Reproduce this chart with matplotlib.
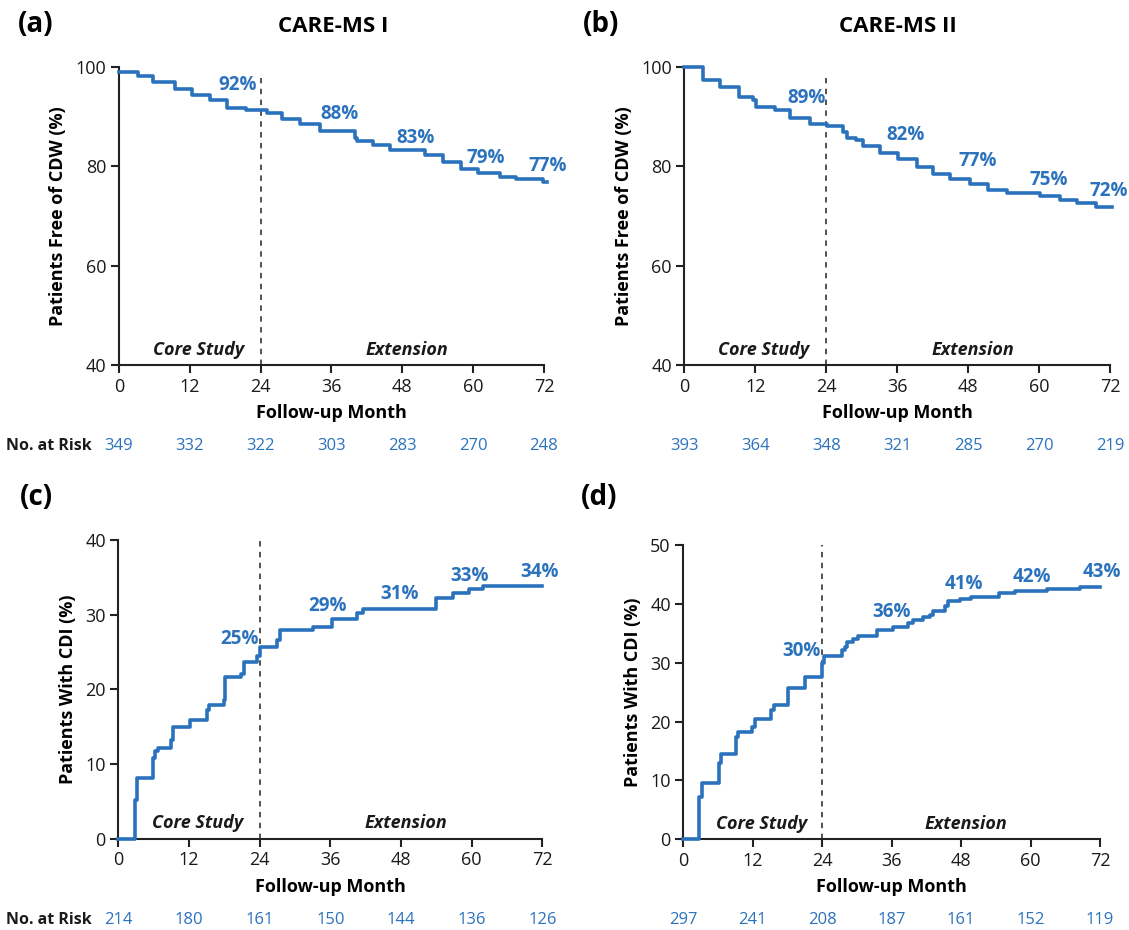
import matplotlib.pyplot as plt

plt.rcParams['font.family'] = ['Open Sans', 'DejaVu Sans']

BLUE = '#2b72bd'

months = [0, 12, 24, 36, 48, 60, 72]

# (a) CARE-MS I, patients free of CDW (%)
a_t = [0, 3.3, 5.8, 9.5, 12.3, 15.4, 18.3, 21.6, 25.0, 27.7, 30.6, 34.0, 40.0, 40.4,
       43.1, 45.9, 51.8, 54.9, 58.0, 60.8, 64.5, 67.3, 71.8, 72.5]
a_s = [99.0, 98.1, 97.0, 95.6, 94.4, 93.3, 91.8, 91.4, 90.7, 89.6, 88.6, 87.2, 85.8, 85.2,
       84.4, 83.2, 82.2, 80.9, 79.4, 78.7, 77.9, 77.4, 76.8, 76.8]
a_lab = ['92%', '88%', '83%', '79%', '77%']
a_lab_x = [20.1, 37.4, 50.3, 62.1, 72.6]
a_lab_y = [96.3, 90.6, 85.8, 81.7, 80.1]
a_risk = [349, 332, 322, 303, 283, 270, 248]

# (b) CARE-MS II, patients free of CDW (%)
b_t = [0, 3.1, 6.0, 9.3, 11.7, 12.2, 15.3, 17.8, 21.2, 24.1, 26.9, 27.5, 29.0, 30.3,
       33.1, 36.2, 39.3, 42.1, 44.9, 48.3, 51.4, 54.5, 60.1, 63.5, 66.4, 69.7, 72.4]
b_s = [100, 97.4, 96.0, 94.0, 93.3, 92.0, 91.3, 89.7, 88.6, 88.1, 86.9, 85.8, 85.4, 84.2,
       82.6, 81.5, 79.9, 78.4, 77.5, 76.5, 75.2, 74.7, 74.1, 73.3, 72.6, 71.8, 71.8]
b_lab = ['89%', '82%', '77%', '75%', '72%']
b_lab_x = [20.6, 37.5, 49.6, 61.6, 71.7]
b_lab_y = [93.7, 86.3, 81.1, 77.3, 75.1]
b_risk = [393, 364, 348, 321, 285, 270, 219]

# (c) CARE-MS I, patients with CDI (%)
c_t = [0, 2.8, 3.1, 5.9, 6.3, 6.7, 8.9, 9.3, 12.1, 15.0, 15.4, 17.9, 18.1, 20.9, 21.3,
       23.6, 24.1, 26.9, 27.4, 33.1, 36.3, 40.6, 41.6, 54.0, 56.8, 59.6, 61.9, 71.9]
c_s = [0, 5.2, 8.1, 10.8, 11.7, 12.2, 13.2, 15.0, 15.9, 17.2, 17.9, 18.6, 21.6, 22.1, 23.7,
       24.4, 25.7, 26.6, 28.0, 28.4, 29.4, 30.2, 30.7, 32.2, 32.9, 33.4, 33.8, 33.8]
c_lab = ['25%', '29%', '31%', '33%', '34%']
c_lab_x = [20.5, 35.6, 47.7, 59.7, 71.6]
c_lab_y = [26.8, 31.1, 32.7, 35.2, 35.7]
c_risk = [214, 180, 161, 150, 144, 136, 126]

# (d) CARE-MS II, patients with CDI (%)
d_t = [0, 2.7, 3.3, 6.1, 6.6, 9.1, 9.5, 11.9, 12.4, 15.1, 15.6, 18.1, 21.1, 23.9, 24.3,
       27.4, 28.0, 28.3, 29.4, 30.2, 33.5, 36.2, 38.9, 39.7, 41.5, 42.6, 43.2, 45.2, 45.8,
       47.8, 49.8, 54.6, 57.3, 62.8, 68.5, 72.0]
d_s = [0, 7.2, 9.5, 12.9, 14.5, 17.4, 18.3, 19.1, 20.4, 22.0, 22.9, 25.7, 27.6, 29.9, 31.1,
       32.2, 32.7, 33.6, 34.1, 34.5, 35.6, 36.1, 36.7, 37.3, 37.7, 38.1, 38.8, 39.6, 40.5,
       40.9, 41.2, 41.8, 42.1, 42.5, 42.8, 42.8]
d_lab = ['30%', '36%', '41%', '42%', '43%']
d_lab_x = [20.4, 36.0, 48.4, 60.3, 72.3]
d_lab_y = [32.0, 38.6, 43.3, 44.5, 45.4]
d_risk = [297, 241, 208, 187, 161, 152, 119]


def draw_panel(ax, t, s, labs, lab_x, lab_y, ylim, yticks, ylabel, vtop, txt_y):
    ax.step(t, s, where='post', color=BLUE, lw=2.6, clip_on=False, zorder=3)
    ax.plot([24, 24], [ylim[0], vtop], color='#444444', lw=1.3, ls=(0, (3, 3)), zorder=2)
    for lab, x, y in zip(labs, lab_x, lab_y):
        ax.text(x, y, lab, color=BLUE, fontsize=13.5, fontweight='bold',
                ha='center', va='center')
    ax.text(13.5, txt_y, 'Core Study', fontsize=13, fontweight='bold', style='italic',
            ha='center', va='center', color='#1a1a1a')
    ax.text(48.8, txt_y, 'Extension', fontsize=13, fontweight='bold', style='italic',
            ha='center', va='center', color='#1a1a1a')
    ax.set_xlim(0, 72)
    ax.set_ylim(*ylim)
    ax.set_xticks(months)
    ax.set_yticks(yticks)
    ax.spines['top'].set_visible(False)
    ax.spines['right'].set_visible(False)
    for sp in ['left', 'bottom']:
        ax.spines[sp].set_linewidth(1.5)
        ax.spines[sp].set_color('#222222')
    ax.tick_params(direction='out', length=6, width=1.5, color='#222222',
                   labelsize=13, labelcolor='#1a1a1a', pad=3)
    ax.set_xlabel('Follow-up Month', fontsize=13, fontweight='bold', labelpad=6)
    ax.set_ylabel(ylabel, fontsize=13, fontweight='bold', labelpad=6)


fig = plt.figure(figsize=(11.29, 9.30), dpi=100)

ax_a = fig.add_axes([0.1054, 0.6075, 0.3764, 0.3204])
ax_b = fig.add_axes([0.6061, 0.6075, 0.3771, 0.3204])
ax_c = fig.add_axes([0.1048, 0.0982, 0.3756, 0.3212])
ax_d = fig.add_axes([0.6052, 0.0975, 0.3691, 0.3165])

draw_panel(ax_a, a_t, a_s, a_lab, a_lab_x, a_lab_y, (40, 100), [40, 60, 80, 100],
           'Patients Free of CDW (%)', 97.7, 43.0)
draw_panel(ax_b, b_t, b_s, b_lab, b_lab_x, b_lab_y, (40, 100), [40, 60, 80, 100],
           'Patients Free of CDW (%)', 97.7, 43.0)
draw_panel(ax_c, c_t, c_s, c_lab, c_lab_x, c_lab_y, (0, 40), [0, 10, 20, 30, 40],
           'Patients With CDI (%)', 40, 2.1)
draw_panel(ax_d, d_t, d_s, d_lab, d_lab_x, d_lab_y, (0, 50), [0, 10, 20, 30, 40, 50],
           'Patients With CDI (%)', 50, 2.6)

# number at risk rows
for ax, risk, ypix, show in [(ax_a, a_risk, 446, True), (ax_b, b_risk, 446, False),
                             (ax_c, c_risk, 920, True), (ax_d, d_risk, 920, False)]:
    yfig = 1 - ypix / 930
    for m, n in zip(months, risk):
        ax.annotate(str(n), xy=(m, 0), xycoords=('data', 'axes fraction'),
                    xytext=(m, yfig), textcoords=('data', 'figure fraction'),
                    ha='center', va='center', fontsize=12, color=BLUE)
    if show:
        fig.text(92 / 1129, yfig, 'No. at Risk', ha='right', va='center',
                 fontsize=11.5, fontweight='bold', color='#1a1a1a')

# panel letters and titles
fig.text(36 / 1129, 1 - 25 / 930, '(a)', fontsize=20, fontweight='bold', ha='center', va='center')
fig.text(601 / 1129, 1 - 25 / 930, '(b)', fontsize=20, fontweight='bold', ha='center', va='center')
fig.text(36 / 1129, 1 - 497 / 930, '(c)', fontsize=20, fontweight='bold', ha='center', va='center')
fig.text(599 / 1129, 1 - 497 / 930, '(d)', fontsize=20, fontweight='bold', ha='center', va='center')
fig.text(333 / 1129, 1 - 27 / 930, 'CARE-MS I', fontsize=16, fontweight='bold', ha='center', va='center')
fig.text(898 / 1129, 1 - 27 / 930, 'CARE-MS II', fontsize=16, fontweight='bold', ha='center', va='center')

fig.savefig('out.png', dpi=100)
